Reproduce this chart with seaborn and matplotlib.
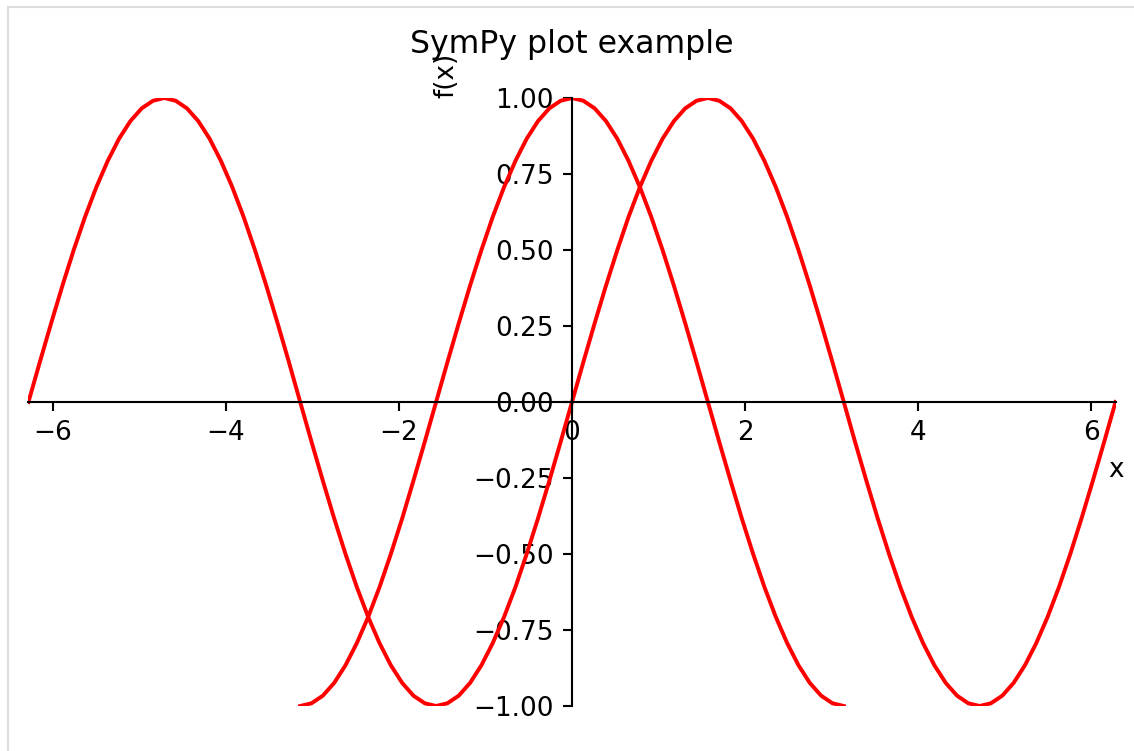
import pandas as pd
import seaborn as sns
import matplotlib.pyplot as plt
from matplotlib.lines import Line2D

# samples of the two curves (x in radians, step pi/24)
x_sin = [-6.283, -6.152, -6.021, -5.890, -5.760, -5.629, -5.498, -5.367,
         -5.236, -5.105, -4.974, -4.843, -4.712, -4.581, -4.451, -4.320,
         -4.189, -4.058, -3.927, -3.796, -3.665, -3.534, -3.403, -3.272,
         -3.142, -3.011, -2.880, -2.749, -2.618, -2.487, -2.356, -2.225,
         -2.094, -1.963, -1.833, -1.702, -1.571, -1.440, -1.309, -1.178,
         -1.047, -0.916, -0.785, -0.654, -0.524, -0.393, -0.262, -0.131,
         0.0,
         0.131, 0.262, 0.393, 0.524, 0.654, 0.785, 0.916, 1.047,
         1.178, 1.309, 1.440, 1.571, 1.702, 1.833, 1.963, 2.094,
         2.225, 2.356, 2.487, 2.618, 2.749, 2.880, 3.011, 3.142,
         3.272, 3.403, 3.534, 3.665, 3.796, 3.927, 4.058, 4.189,
         4.320, 4.451, 4.581, 4.712, 4.843, 4.974, 5.105, 5.236,
         5.367, 5.498, 5.629, 5.760, 5.890, 6.021, 6.152, 6.283]
y_sin = [0.0, 0.131, 0.259, 0.383, 0.5, 0.609, 0.707, 0.793, 0.866, 0.924, 0.966, 0.991,
         1.0, 0.991, 0.966, 0.924, 0.866, 0.793, 0.707, 0.609, 0.5, 0.383, 0.259, 0.131,
         0.0, -0.131, -0.259, -0.383, -0.5, -0.609, -0.707, -0.793, -0.866, -0.924, -0.966, -0.991,
         -1.0, -0.991, -0.966, -0.924, -0.866, -0.793, -0.707, -0.609, -0.5, -0.383, -0.259, -0.131,
         0.0, 0.131, 0.259, 0.383, 0.5, 0.609, 0.707, 0.793, 0.866, 0.924, 0.966, 0.991,
         1.0, 0.991, 0.966, 0.924, 0.866, 0.793, 0.707, 0.609, 0.5, 0.383, 0.259, 0.131,
         0.0, -0.131, -0.259, -0.383, -0.5, -0.609, -0.707, -0.793, -0.866, -0.924, -0.966, -0.991,
         -1.0, -0.991, -0.966, -0.924, -0.866, -0.793, -0.707, -0.609, -0.5, -0.383, -0.259, -0.131,
         0.0]

x_cos = [-3.142, -3.011, -2.880, -2.749, -2.618, -2.487, -2.356, -2.225,
         -2.094, -1.963, -1.833, -1.702, -1.571, -1.440, -1.309, -1.178,
         -1.047, -0.916, -0.785, -0.654, -0.524, -0.393, -0.262, -0.131,
         0.0,
         0.131, 0.262, 0.393, 0.524, 0.654, 0.785, 0.916, 1.047,
         1.178, 1.309, 1.440, 1.571, 1.702, 1.833, 1.963, 2.094,
         2.225, 2.356, 2.487, 2.618, 2.749, 2.880, 3.011, 3.142]
y_cos = [-1.0, -0.991, -0.966, -0.924, -0.866, -0.793, -0.707, -0.609, -0.5, -0.383, -0.259, -0.131,
         0.0, 0.131, 0.259, 0.383, 0.5, 0.609, 0.707, 0.793, 0.866, 0.924, 0.966, 0.991,
         1.0, 0.991, 0.966, 0.924, 0.866, 0.793, 0.707, 0.609, 0.5, 0.383, 0.259, 0.131,
         0.0, -0.131, -0.259, -0.383, -0.5, -0.609, -0.707, -0.793, -0.866, -0.924, -0.966, -0.991,
         -1.0]

x_ticks = [-6, -4, -2, 0, 2, 4, 6]
y_ticks = [-1.0, -0.75, -0.5, -0.25, 0.0, 0.25, 0.5, 0.75, 1.0]

df_sin = pd.DataFrame({"x": x_sin, "y": y_sin})
df_cos = pd.DataFrame({"x": x_cos, "y": y_cos})

fig = plt.figure(figsize=(1134 / 189, 751 / 189), dpi=189)
ax = fig.add_axes([0.0251, 0.0599, 0.9586, 0.8096])

sns.lineplot(data=df_sin, x="x", y="y", color="red", linewidth=1.5, ax=ax)
sns.lineplot(data=df_cos, x="x", y="y", color="red", linewidth=1.5, ax=ax)

ax.set_xlim(x_sin[0], x_sin[-1])
ax.set_ylim(-1, 1)
ax.set_xticks(x_ticks)
ax.set_yticks(y_ticks)

# sympy style: axes through the origin
ax.spines["left"].set_position(("data", 0))
ax.spines["bottom"].set_position(("data", 0))
ax.spines["top"].set_visible(False)
ax.spines["right"].set_visible(False)

ax.set_title("SymPy plot example", fontsize=12, pad=17)
ax.set_xlabel("x")
ax.xaxis.label.set_x(1.0)
ax.set_ylabel("f(x)")
ax.yaxis.set_label_coords(0.384, 1.0)
ax.yaxis.label.set_rotation_mode("default")
ax.yaxis.label.set_va("bottom")
ax.yaxis.label.set_ha("center")

# notebook output frame
fig.add_artist(Line2D([8 / 1134, 1], [1 - 7 / 751, 1 - 7 / 751],
                      transform=fig.transFigure, color="#dddddd", linewidth=0.8))
fig.add_artist(Line2D([8 / 1134, 8 / 1134], [0, 1 - 7 / 751],
                      transform=fig.transFigure, color="#dddddd", linewidth=0.8))

fig.savefig("out.png", dpi=189)
